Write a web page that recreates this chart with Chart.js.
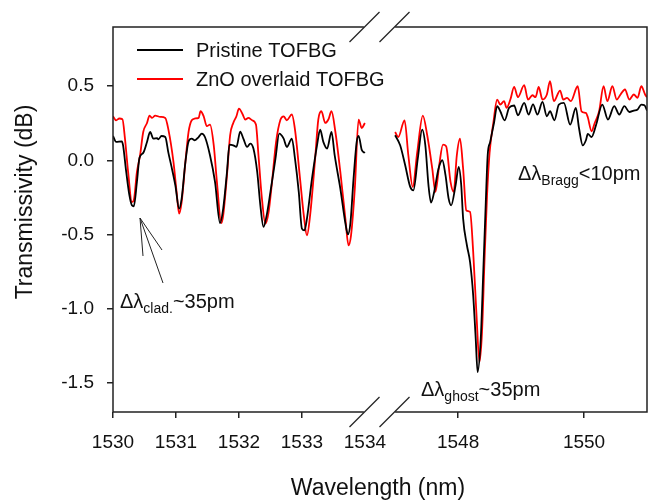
<!DOCTYPE html>
<html>
<head>
<meta charset="utf-8">
<script src="https://cdn.jsdelivr.net/npm/chart.js@4/dist/chart.umd.min.js"></script>
<style>
  body { margin: 0; background: #fff; }
  #wrap { width: 651px; height: 500px; }
</style>
</head>
<body>
<div id="wrap"><canvas id="chart" width="651" height="500"></canvas></div>
<script>
// broken wavelength axis: 1530-1534 and 1547-1551
const gap = 0.48;
const xTicks = [1530, 1531, 1532, 1533, 1534, 1548, 1550];
const yTicks = [0.5, 0.0, -0.5, -1.0, -1.5];

const pristineLeftX = [1530.00, 1530.05, 1530.14, 1530.16, 1530.21, 1530.26, 1530.30, 1530.33, 1530.38, 1530.42, 1530.48, 1530.54, 1530.59, 1530.64, 1530.70, 1530.72, 1530.77, 1530.83, 1530.88, 1530.93, 1530.99, 1531.05, 1531.09, 1531.15, 1531.20, 1531.25, 1531.30, 1531.36, 1531.41, 1531.46, 1531.54, 1531.62, 1531.70, 1531.75, 1531.81, 1531.85, 1531.91, 1531.96, 1532.02, 1532.07, 1532.13, 1532.18, 1532.23, 1532.29, 1532.34, 1532.39, 1532.44, 1532.50, 1532.58, 1532.64, 1532.71, 1532.76, 1532.84, 1532.89, 1532.95, 1533.00, 1533.04, 1533.08, 1533.16, 1533.24, 1533.29, 1533.34, 1533.40, 1533.47, 1533.52, 1533.61, 1533.69, 1533.73, 1533.77, 1533.82, 1533.87, 1533.90, 1533.95, 1534.00];
const pristineLeftY = [0.164, 0.124, 0.128, 0.101, -0.079, -0.236, -0.304, -0.311, -0.146, 0.016, 0.05, 0.124, 0.191, 0.146, 0.15, 0.142, 0.164, 0.157, 0.05, -0.045, -0.169, -0.326, -0.259, -0.011, 0.128, 0.146, 0.135, 0.157, 0.18, 0.157, 0.034, -0.146, -0.424, -0.326, -0.079, 0.106, 0.101, 0.09, 0.193, 0.146, 0.09, 0.113, 0.079, -0.079, -0.304, -0.45, -0.372, -0.214, 0.011, 0.18, 0.146, 0.09, 0.146, 0.011, -0.214, -0.461, -0.473, -0.394, -0.124, 0.101, 0.207, 0.124, 0.079, 0.191, 0.034, -0.191, -0.424, -0.5, -0.424, -0.124, 0.124, 0.165, 0.07, 0.05];

const znoLeftX = [1530.00, 1530.05, 1530.10, 1530.15, 1530.19, 1530.24, 1530.30, 1530.33, 1530.38, 1530.43, 1530.48, 1530.54, 1530.58, 1530.62, 1530.67, 1530.75, 1530.83, 1530.88, 1530.96, 1531.01, 1531.05, 1531.09, 1531.15, 1531.20, 1531.25, 1531.30, 1531.36, 1531.39, 1531.44, 1531.49, 1531.54, 1531.60, 1531.65, 1531.72, 1531.75, 1531.81, 1531.86, 1531.91, 1531.96, 1532.00, 1532.06, 1532.10, 1532.15, 1532.21, 1532.27, 1532.31, 1532.36, 1532.42, 1532.47, 1532.52, 1532.59, 1532.66, 1532.71, 1532.76, 1532.84, 1532.89, 1532.97, 1533.03, 1533.08, 1533.13, 1533.21, 1533.26, 1533.31, 1533.37, 1533.42, 1533.47, 1533.53, 1533.61, 1533.69, 1533.74, 1533.78, 1533.84, 1533.90, 1533.95, 1534.00];
const znoLeftY = [0.297, 0.27, 0.282, 0.277, 0.146, -0.079, -0.282, -0.27, -0.079, 0.034, 0.191, 0.252, 0.302, 0.286, 0.302, 0.293, 0.286, 0.207, -0.011, -0.214, -0.36, -0.282, -0.011, 0.191, 0.27, 0.282, 0.286, 0.331, 0.297, 0.23, 0.241, 0.101, -0.146, -0.424, -0.372, -0.101, 0.169, 0.252, 0.297, 0.349, 0.309, 0.275, 0.286, 0.27, 0.241, 0.034, -0.236, -0.428, -0.354, -0.169, 0.124, 0.275, 0.297, 0.27, 0.309, 0.207, -0.124, -0.372, -0.507, -0.372, 0.011, 0.275, 0.331, 0.252, 0.275, 0.331, 0.196, -0.079, -0.394, -0.574, -0.507, -0.191, 0.275, 0.218, 0.252];

const pristineRightX = [1547.00, 1547.08, 1547.16, 1547.24, 1547.29, 1547.36, 1547.43, 1547.48, 1547.53, 1547.57, 1547.62, 1547.69, 1547.75, 1547.80, 1547.85, 1547.89, 1547.96, 1548.01, 1548.05, 1548.08, 1548.14, 1548.19, 1548.24, 1548.28, 1548.31, 1548.36, 1548.40, 1548.44, 1548.47, 1548.51, 1548.57, 1548.62, 1548.67, 1548.74, 1548.81, 1548.89, 1548.95, 1549.05, 1549.12, 1549.19, 1549.26, 1549.34, 1549.41, 1549.46, 1549.53, 1549.60, 1549.68, 1549.78, 1549.87, 1549.92, 1549.98, 1550.03, 1550.06, 1550.12, 1550.19, 1550.29, 1550.38, 1550.48, 1550.56, 1550.64, 1550.72, 1550.79, 1550.85, 1550.91, 1550.96, 1551.00];
const pristineRightY = [0.169, 0.101, -0.034, -0.18, -0.203, 0.011, 0.207, 0.101, -0.169, -0.286, -0.214, -0.056, 0, -0.101, -0.259, -0.304, -0.169, -0.045, -0.169, -0.394, -0.574, -0.687, -0.912, -1.205, -1.43, -1.205, -0.755, -0.282, 0.034, 0.124, 0.252, 0.365, 0.331, 0.27, 0.354, 0.37, 0.304, 0.387, 0.309, 0.378, 0.309, 0.394, 0.297, 0.331, 0.27, 0.376, 0.387, 0.241, 0.354, 0.218, 0.10, 0.135, 0.178, 0.157, 0.236, 0.376, 0.275, 0.365, 0.309, 0.365, 0.326, 0.336, 0.343, 0.376, 0.372, 0.336];

const znoRightX = [1547.00, 1547.05, 1547.15, 1547.21, 1547.28, 1547.35, 1547.44, 1547.51, 1547.59, 1547.64, 1547.70, 1547.76, 1547.81, 1547.88, 1547.93, 1547.98, 1548.03, 1548.08, 1548.13, 1548.19, 1548.24, 1548.29, 1548.34, 1548.38, 1548.42, 1548.46, 1548.50, 1548.56, 1548.62, 1548.67, 1548.73, 1548.77, 1548.83, 1548.89, 1548.95, 1549.05, 1549.11, 1549.18, 1549.23, 1549.28, 1549.34, 1549.41, 1549.46, 1549.52, 1549.62, 1549.67, 1549.73, 1549.79, 1549.90, 1549.96, 1550.03, 1550.06, 1550.12, 1550.17, 1550.24, 1550.31, 1550.37, 1550.45, 1550.52, 1550.58, 1550.65, 1550.72, 1550.79, 1550.85, 1550.91, 1550.97, 1551.00];
const znoRightY = [0.191, 0.157, 0.27, 0.034, -0.18, 0.05, 0.302, 0.169, -0.056, -0.214, -0.034, 0.106, 0.095, -0.146, -0.214, 0.034, 0.146, -0.056, -0.338, -0.349, -0.62, -1.025, -1.363, -1.16, -0.671, -0.236, 0.05, 0.252, 0.41, 0.376, 0.399, 0.354, 0.41, 0.495, 0.426, 0.507, 0.41, 0.439, 0.426, 0.495, 0.41, 0.444, 0.534, 0.399, 0.471, 0.41, 0.422, 0.399, 0.5, 0.331, 0.32, 0.29, 0.196, 0.252, 0.331, 0.5, 0.399, 0.5, 0.41, 0.444, 0.478, 0.41, 0.444, 0.422, 0.5, 0.444, 0.426];

const FONT = '"Liberation Sans", Arial, sans-serif';

// map wavelength onto the continuous internal axis and back
function toU(l) { return l < 1540 ? l - 1530 : l - 1547 + 4 + gap; }
function fromU(u) { return u < 4 + gap / 2 ? u + 1530 : u - 4 - gap + 1547; }

function series(lx, ly, rx, ry) {
  const left = lx.map((x, i) => ({ x: toU(x), y: ly[i] }));
  const right = rx.map((x, i) => ({ x: toU(x), y: ry[i] }));
  return [...left, { x: 4 + gap / 2, y: null }, ...right];
}

function subText(ctx, x, y, main, sub, rest, size) {
  ctx.font = size + 'px ' + FONT;
  ctx.fillText(main, x, y);
  x += ctx.measureText(main).width;
  ctx.font = Math.round(size * 0.68) + 'px ' + FONT;
  ctx.fillText(sub, x, y + 5);
  x += ctx.measureText(sub).width;
  ctx.font = size + 'px ' + FONT;
  ctx.fillText(rest, x, y);
}

const decorations = {
  id: 'decorations',
  afterDraw(chart) {
    const ctx = chart.ctx;
    const { left, right, top, bottom } = chart.chartArea;
    const xs = chart.scales.x;
    const bl = xs.getPixelForValue(4) - 1;
    const br = xs.getPixelForValue(4 + gap) + 0;
    ctx.save();
    ctx.strokeStyle = '#222';
    ctx.lineWidth = 1.5;
    ctx.beginPath();
    ctx.moveTo(bl, top); ctx.lineTo(left, top); ctx.lineTo(left, bottom); ctx.lineTo(bl, bottom);
    ctx.moveTo(br, top); ctx.lineTo(right, top); ctx.lineTo(right, bottom); ctx.lineTo(br, bottom);
    ctx.stroke();

    // break marks
    ctx.lineWidth = 1.2;
    const mid = (bl + br) / 2;
    [top, bottom].forEach(yy => {
      [mid - 15, mid + 15].forEach(xx => {
        ctx.beginPath();
        ctx.moveTo(xx - 15, yy + 15);
        ctx.lineTo(xx + 15, yy - 15);
        ctx.stroke();
      });
    });

    // legend
    ctx.lineWidth = 1.8;
    ctx.strokeStyle = '#000';
    ctx.beginPath(); ctx.moveTo(137, 50); ctx.lineTo(183, 50); ctx.stroke();
    ctx.strokeStyle = '#ff0000';
    ctx.beginPath(); ctx.moveTo(137, 79); ctx.lineTo(183, 79); ctx.stroke();
    ctx.fillStyle = '#111';
    ctx.textBaseline = 'alphabetic';
    ctx.textAlign = 'left';
    ctx.font = '20px ' + FONT;
    ctx.fillText('Pristine TOFBG', 196, 57);
    ctx.fillText('ZnO overlaid TOFBG', 196, 86);

    // annotations
    subText(ctx, 120, 308, '\u0394\u03bb', 'clad.', '~35pm', 20);
    subText(ctx, 421, 396, '\u0394\u03bb', 'ghost', '~35pm', 20);
    subText(ctx, 518, 180, '\u0394\u03bb', 'Bragg', '<10pm', 20);

    ctx.strokeStyle = '#222';
    ctx.lineWidth = 1;
    [[143, 256], [162, 250], [163, 283]].forEach(p => {
      ctx.beginPath(); ctx.moveTo(140, 218); ctx.lineTo(p[0], p[1]); ctx.stroke();
    });

    // axis titles
    ctx.font = '23px ' + FONT;
    ctx.textAlign = 'center';
    ctx.fillText('Wavelength (nm)', 378, 495);
    ctx.translate(32, 202);
    ctx.rotate(-Math.PI / 2);
    ctx.fillText('Transmissivity (dB)', 0, 0);
    ctx.restore();
  }
};

new Chart(document.getElementById('chart'), {
  type: 'line',
  data: {
    datasets: [
      { label: 'Pristine TOFBG', data: series(pristineLeftX, pristineLeftY, pristineRightX, pristineRightY), borderColor: '#000' },
      { label: 'ZnO overlaid TOFBG', data: series(znoLeftX, znoLeftY, znoRightX, znoRightY), borderColor: '#ff0000' }
    ]
  },
  options: {
    responsive: false,
    animation: false,
    spanGaps: false,
    layout: { padding: { top: 27, right: 4, left: 0, bottom: 0 } },
    elements: {
      point: { radius: 0 },
      line: { borderWidth: 1.8, cubicInterpolationMode: 'monotone' }
    },
    plugins: { legend: { display: false }, tooltip: { enabled: false } },
    scales: {
      x: {
        type: 'linear',
        min: 0,
        max: 8 + gap,
        border: { display: false },
        grid: {
          drawOnChartArea: false,
          tickLength: 6,
          lineWidth: 1.5,
          color: c => (c.tick && c.tick.value === 4) ? 'rgba(0,0,0,0)' : '#222'
        },
        afterBuildTicks: s => { s.ticks = xTicks.map(v => ({ value: toU(v) })); },
        ticks: {
          color: '#111',
          padding: 13,
          maxRotation: 0,
          autoSkip: false,
          font: { size: 19, family: FONT },
          callback: v => String(Math.round(fromU(v)))
        },
        afterFit: s => { s.height = 88; }
      },
      y: {
        min: -1.7,
        max: 0.9,
        border: { display: false },
        grid: { drawOnChartArea: false, tickLength: 6, lineWidth: 1.5, color: '#222' },
        afterBuildTicks: s => { s.ticks = yTicks.map(v => ({ value: v })); },
        ticks: {
          color: '#111',
          padding: 13,
          font: { size: 19, family: FONT },
          callback: v => v.toFixed(1)
        },
        afterFit: s => { s.width = 113; }
      }
    }
  },
  plugins: [decorations]
});
</script>
</body>
</html>
